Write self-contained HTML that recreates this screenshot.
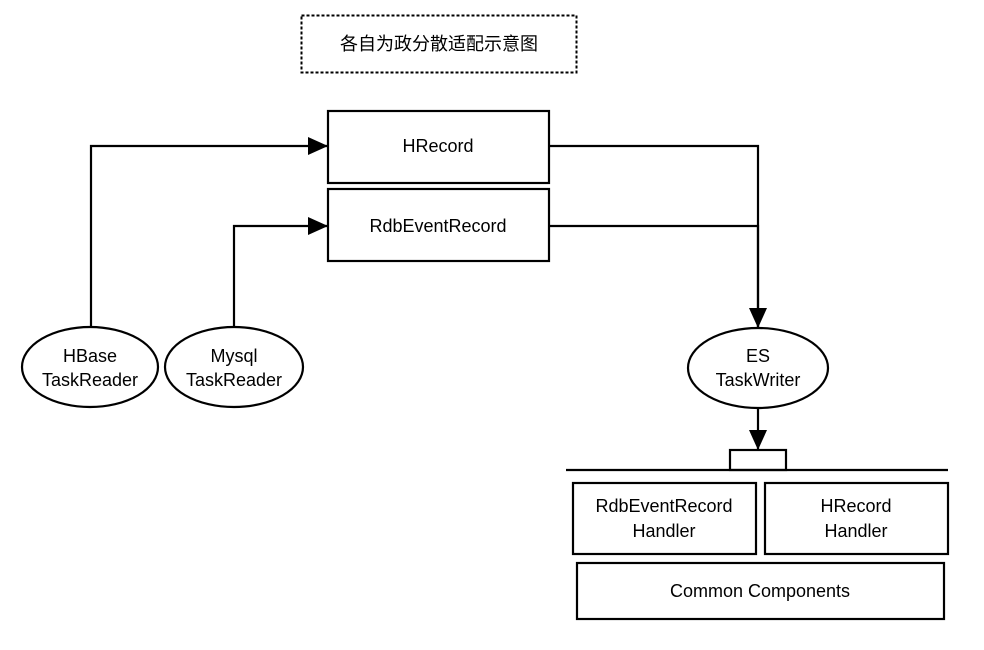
<!DOCTYPE html>
<html><head><meta charset="utf-8"><style>body{margin:0;background:#fff}</style></head><body>
<svg width="984" height="645" viewBox="0 0 984 645" xmlns="http://www.w3.org/2000/svg" font-family="Liberation Sans, Arial, sans-serif" font-size="18">
<defs>
<marker id="b" markerWidth="20" markerHeight="18" refX="20" refY="9" orient="auto" markerUnits="userSpaceOnUse"><path d="M0,0 L20,9 L0,18z" fill="#000"/></marker></defs>
<rect width="984" height="645" fill="#fff"/>
<rect x="301.5" y="15.5" width="275" height="57" fill="none" stroke="#000" stroke-width="2" stroke-dasharray="3,2"/>
<text x="439" y="50" text-anchor="middle" font-family="Liberation Sans, Noto Sans CJK SC, sans-serif" font-size="18">各自为政分散适配示意图</text>
<g fill="none" stroke="#000" stroke-width="2.2">
<rect x="328" y="111" width="221" height="72"/>
<rect x="328" y="189" width="221" height="72"/>
<polyline points="91,328 91,146 328,146" marker-end="url(#b)"/>
<polyline points="234,328 234,226 328,226" marker-end="url(#b)"/>
<polyline points="549,146 758,146 758,328"/>
<polyline points="549,226 758,226 758,328" marker-end="url(#b)"/>
<line x1="758" y1="408" x2="758" y2="450" marker-end="url(#b)"/>
<ellipse cx="90" cy="367" rx="68" ry="40"/>
<ellipse cx="234" cy="367" rx="69" ry="40"/>
<ellipse cx="758" cy="368" rx="70" ry="40"/>
<rect x="730" y="450" width="56" height="20"/>
<line x1="566" y1="470" x2="948" y2="470"/>
<rect x="573" y="483" width="183" height="71"/>
<rect x="765" y="483" width="183" height="71"/>
<rect x="577" y="563" width="367" height="56"/>
</g>
<g text-anchor="middle">
<text x="438" y="152">HRecord</text>
<text x="438" y="232">RdbEventRecord</text>
<text x="90" y="362">HBase</text><text x="90" y="386">TaskReader</text>
<text x="234" y="362">Mysql</text><text x="234" y="386">TaskReader</text>
<text x="758" y="362">ES</text><text x="758" y="386">TaskWriter</text>
<text x="664" y="512">RdbEventRecord</text><text x="664" y="537">Handler</text>
<text x="856" y="512">HRecord</text><text x="856" y="537">Handler</text>
<text x="760" y="597">Common Components</text>
</g>
</svg>
</body></html>
